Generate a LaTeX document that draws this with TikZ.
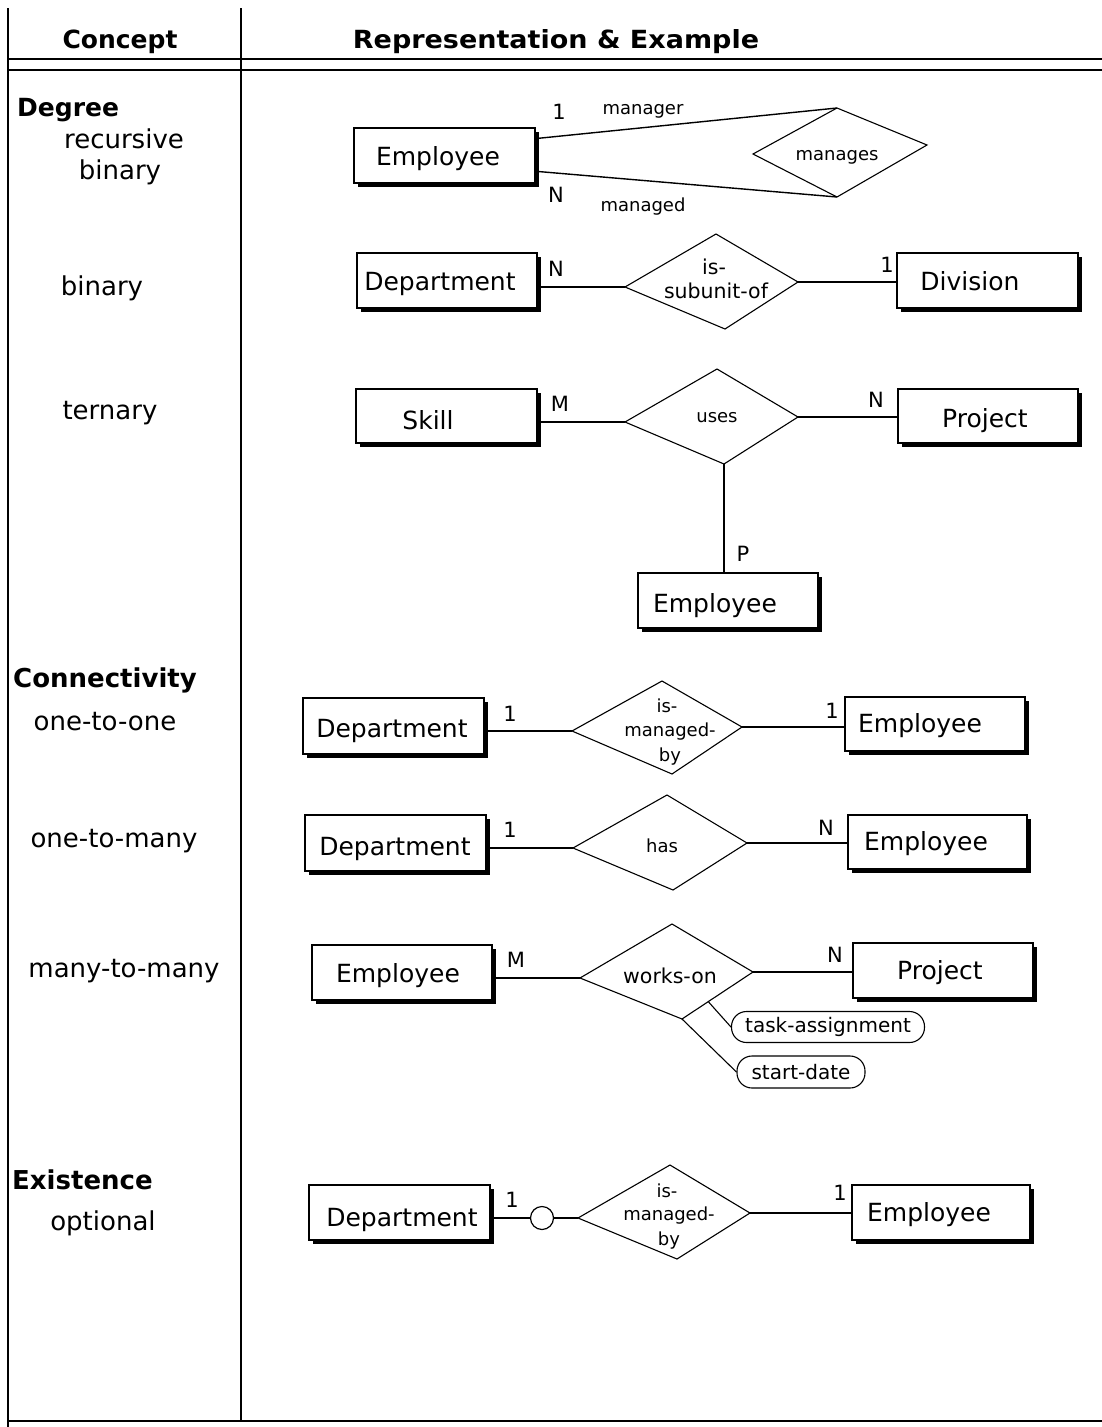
\documentclass[tikz,border=0pt]{standalone}
\usepackage{fontspec}
\setmainfont{DejaVu Sans}
\usepackage{graphicx}
\usetikzlibrary{shadows,calc}
\newcommand{\fsz}[1]{\fontsize{#1}{#1}\selectfont}
\newcommand{\erEntity}[8]{%
  \node[ebox, minimum width={#4-#2}, minimum height={#5-#3}] (#1) at ({(#2+#4)/2},{(#3+#5)/2}) {};
  \node[etext] (#1-t) at (#6,#7) {#8};}
\newcommand{\erRel}[9]{%
  \coordinate (#1-L) at (#2,#3); \coordinate (#1-T) at (#4,#5);
  \coordinate (#1-R) at (#6,#7); \coordinate (#1-B) at (#8,#9);
  \draw[rel] (#1-L) -- (#1-T) -- (#1-R) -- (#1-B) -- cycle;}
\begin{document}
\begin{tikzpicture}[x=1pt,y=-1pt,
  frame/.style={line width=1.8pt},
  ebox/.style={draw, line width=1.4pt, fill=white, inner sep=0pt,
    drop shadow={shadow xshift=4pt,shadow yshift=-4pt,fill=black,opacity=1}},
  etext/.style={font=\fsz{25}, inner sep=0pt, text height=18pt, text depth=0pt},
  ltext/.style={font=\fsz{26}, inner sep=0pt, text height=19pt, text depth=0pt},
  head/.style={font=\bfseries\fsz{25}, inner sep=0pt, text height=18pt, text depth=0pt},
  small/.style={font=\fsz{18}, inner sep=0pt, text height=13pt, text depth=0pt},
  mid/.style={font=\fsz{20.5}, inner sep=0pt, text height=15pt, text depth=0pt},
  card/.style={font=\fsz{21}, inner sep=0pt, text height=15pt, text depth=0pt},
  rel/.style={line width=1.1pt, line join=miter},
  conn/.style={line width=1.4pt},
  attr/.style={draw, line width=1.1pt, rounded corners=15pt, inner sep=0pt, font=\fsz{20}}
]
\useasboundingbox (0,0) rectangle (1102,1427);
% frame
\draw[frame] (8,8) -- (8,1427);
\draw[frame] (241,8) -- (241,1421);
\draw[frame] (8,59) -- (1102,59);
\draw[frame] (8,70) -- (1102,70);
\draw[frame] (9,1421) -- (1102,1421);
\node[head] (hc) at (120,39) {Concept};
\node[head] (hr) at (556,39) {\scalebox{1.08}[1]{Representation \& Example}};
% left column
\node[head, anchor=west, font=\bfseries\fsz{25}] (degree) at (17,107) {Degree};
\node[ltext] (recur) at (124,139) {recursive};
\node[ltext] (bin1) at (120,170) {binary};
\node[ltext] (bin2) at (102,286) {binary};
\node[ltext] (tern) at (110,410) {ternary};
\node[head, anchor=west, font=\bfseries\fsz{26}] (conn) at (13,678) {Connectivity};
\node[ltext] (o2o) at (105,721) {one-to-one};
\node[ltext] (o2m) at (114,838) {one-to-many};
\node[ltext] (m2m) at (124,968) {many-to-many};
\node[head, anchor=west, font=\bfseries\fsz{26}] (exist) at (12,1180) {Existence};
\node[ltext] (opt) at (103,1221) {optional};

% ---- recursive binary
\erEntity{E1}{354}{128}{535}{183}{438}{156}{Employee}
\erRel{R1}{753}{154}{837}{108}{927}{145}{837}{197}
\node[small] (R1t) at (837,154) {manages};
\draw[conn] ($(E1.north east)!0.2!(E1.south east)$) -- (R1-T);
\draw[conn] ($(E1.north east)!0.78!(E1.south east)$) -- (R1-B);
\node[card] (c1a) at (559,112) {1};
\node[small] (l1a) at (643,108) {manager};
\node[card] (c1b) at (556,195) {N};
\node[small] (l1b) at (643,205) {managed};

% ---- binary
\erEntity{D1}{357}{253}{537}{308}{440}{281}{Department}
\erEntity{Div}{897}{253}{1078}{308}{970}{281}{Division}
\erRel{R2}{625}{287}{716}{234}{798}{282}{725}{329}
\node[mid] (R2a) at (714,267) {is-};
\node[mid] (R2b) at (716,291) {subunit-of};
\draw[conn] (R2-L -| D1.east) -- (R2-L);
\draw[conn] (R2-R) -- (R2-R -| Div.west);
\node[card] (c2a) at (556,269) {N};
\node[card] (c2b) at (887,265) {1};

% ---- ternary
\erEntity{Sk}{356}{389}{537}{443}{428}{420}{Skill}
\erEntity{P1}{898}{389}{1078}{443}{985}{418}{Project}
\erEntity{E2}{638}{573}{818}{628}{715}{603}{Employee}
\erRel{R3}{625}{422}{717}{369}{798}{417}{724}{464}
\node[small] (R3t) at (717,416) {uses};
\draw[conn] (R3-L -| Sk.east) -- (R3-L);
\draw[conn] (R3-R) -- (R3-R -| P1.west);
\draw[conn] (R3-B) -- (R3-B |- E2.north);
\node[card] (c3a) at (560,404) {M};
\node[card] (c3b) at (876,400) {N};
\node[card] (c3c) at (743,554) {P};

% ---- one-to-one
\erEntity{D2}{303}{698}{484}{754}{392}{728}{Department}
\erEntity{E3}{845}{697}{1025}{751}{920}{723}{Employee}
\erRel{R4}{572}{731}{662}{681}{742}{727}{672}{774}
\node[small] (R4a) at (667,706) {is-};
\node[small] (R4b) at (670,730) {managed-};
\node[small] (R4c) at (670,755) {by};
\draw[conn] (R4-L -| D2.east) -- (R4-L);
\draw[conn] (R4-R) -- (R4-R -| E3.west);
\node[card] (c4a) at (510,714) {1};
\node[card] (c4b) at (832,711) {1};

% ---- one-to-many
\erEntity{D3}{305}{815}{486}{871}{395}{846}{Department}
\erEntity{E4}{848}{815}{1027}{869}{926}{841}{Employee}
\erRel{R5}{573}{848}{667}{795}{747}{843}{673}{890}
\node[small] (R5t) at (662,846) {has};
\draw[conn] (R5-L -| D3.east) -- (R5-L);
\draw[conn] (R5-R) -- (R5-R -| E4.west);
\node[card] (c5a) at (510,830) {1};
\node[card] (c5b) at (826,828) {N};

% ---- many-to-many
\erEntity{E5}{312}{945}{492}{1000}{398}{973}{Employee}
\erEntity{P2}{853}{943}{1033}{998}{940}{970}{Project}
\erRel{R6}{580}{978}{672}{924}{753}{972}{682}{1019}
\node[mid] (R6t) at (670,976) {works-on};
\draw[conn] (R6-L -| E5.east) -- (R6-L);
\draw[conn] (R6-R) -- (R6-R -| P2.west);
\node[card] (c6a) at (516,960) {M};
\node[card] (c6b) at (835,955) {N};
\node[attr, minimum width=193pt, minimum height=31pt] (ta) at (828,1027) {task-assignment};
\node[attr, minimum width=128pt, minimum height=32pt] (sd) at (801,1072) {start-date};
\draw[rel] ($(R6-B)!0.37!(R6-R)$) -- (ta.west);
\draw[rel] (R6-B) -- (sd.west);

% ---- optional
\erEntity{D4}{309}{1185}{490}{1240}{402}{1217}{Department}
\erEntity{E6}{852}{1185}{1030}{1240}{929}{1212}{Employee}
\erRel{R7}{578}{1218}{670}{1165}{750}{1213}{677}{1259}
\node[small] (R7a) at (667,1191) {is-};
\node[small] (R7b) at (669,1214) {managed-};
\node[small] (R7c) at (669,1239) {by};
\node[draw, circle, minimum size=23pt, inner sep=0pt, line width=1.2pt] (oc) at (542,1218) {};
\draw[conn] (oc.west -| D4.east) -- (oc.west);
\draw[conn] (oc.east) -- (R7-L);
\draw[conn] (R7-R) -- (R7-R -| E6.west);
\node[card] (c7a) at (512,1200) {1};
\node[card] (c7b) at (840,1193) {1};
\end{tikzpicture}
\end{document}
